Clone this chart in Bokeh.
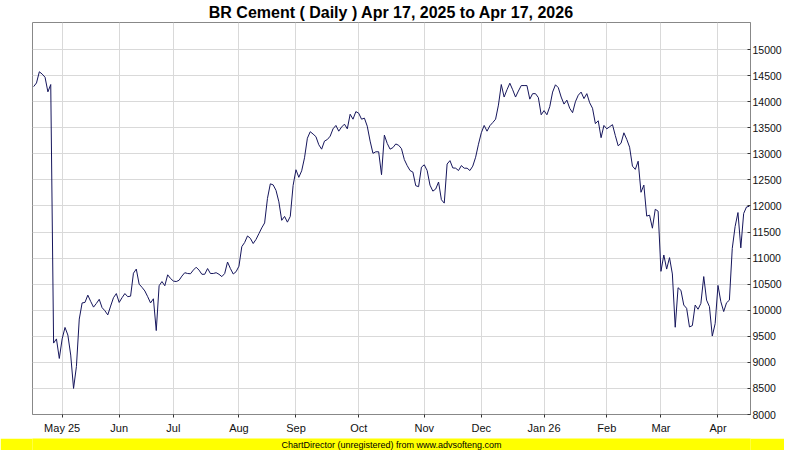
from bokeh.plotting import figure
from bokeh.models import Range1d, FixedTicker
from bokeh.layouts import column
from bokeh.embed import file_html
from bokeh.resources import INLINE
from bokeh.core.properties import value

title_text = "BR Cement ( Daily ) Apr 17, 2025 to Apr 17, 2026"
footer_text = "ChartDirector (unregistered) from www.advsofteng.com"

close = [
    14290, 14360, 14575, 14530, 14470, 14190, 14330, 9370, 9450, 9075,
    9450, 9670, 9525, 9140, 8500, 8920, 9830, 10140, 10150, 10290,
    10170, 10060, 10130, 10210, 10050, 9990, 9910, 10080, 10240, 10320,
    10150, 10240, 10320, 10260, 10270, 10710, 10790, 10500, 10440, 10370,
    10260, 10140, 10220, 9610, 10470, 10550, 10470, 10680, 10610, 10560,
    10550, 10575, 10655, 10720, 10705, 10700, 10770, 10825, 10770, 10690,
    10690, 10800, 10705, 10705, 10720, 10690, 10645, 10705, 10925, 10800,
    10695, 10740, 10845, 11220, 11300, 11425, 11380, 11280, 11360, 11470,
    11580, 11675, 12145, 12425, 12405, 12300, 12080, 11725, 11800, 11690,
    11800, 12395, 12695, 12550, 12675, 12925, 13300, 13425, 13380, 13330,
    13175, 13090, 13245, 13275, 13340, 13480, 13545, 13435, 13515, 13570,
    13480, 13760, 13665, 13810, 13780, 13665, 13685, 13530, 13245, 13010,
    13040, 13040, 12600, 13360, 13200, 13090, 13120, 13190, 13165, 13100,
    12890, 12775, 12680, 12650, 12390, 12370, 12745, 12790, 12680, 12400,
    12285, 12325, 12460, 12120, 12055, 12805, 12870, 12730, 12725, 12680,
    12775, 12725, 12725, 12680, 12765, 12935, 13185, 13405, 13545, 13435,
    13540, 13600, 13665, 13935, 14330, 14090, 14230, 14355, 14230, 14090,
    14205, 14310, 14310, 14310, 14050, 14155, 14155, 14080, 13750, 13830,
    13750, 13905, 14185, 14325, 14270, 14090, 13955, 14030, 13875, 13790,
    14000, 14125, 14185, 14060, 14155, 13980, 13875, 13580, 13635, 13310,
    13545, 13480, 13520, 13560, 13350, 13154, 13204, 13404, 13279, 13128,
    12765, 12702, 12859, 12263, 12401, 11806, 11824, 11574, 11937, 11900,
    10746, 11060, 10790, 11009, 10696, 9674, 10432, 10382, 10100, 10037,
    9680, 9705, 10100, 10019, 10131, 10646, 10194, 10069, 9505, 9743,
    10476, 10163, 9975, 10144, 10194, 11185, 11605, 11874, 11197, 11856,
    11981, 11994,
]
month_idx = [10, 30, 49, 72, 92, 114, 137, 157, 179, 201, 220, 240]
month_lbl = ["May 25", "Jun", "Jul", "Aug", "Sep", "Oct", "Nov", "Dec",
             "Jan 26", "Feb", "Mar", "Apr"]
y_ticks = list(range(8000, 15001, 500))

FONT = "Liberation Sans"
n = len(close)
xs = list(range(n))
y0, y1 = 8000, 15520

p = figure(width=784, height=438, output_backend="svg", toolbar_location=None,
           title=title_text, x_range=Range1d(-0.4, n - 0.6), y_range=Range1d(y0, y1),
           y_axis_location="right",
           min_border_left=32, min_border_right=32,
           min_border_top=21, min_border_bottom=24)
p.title.align = "center"
p.title.text_font = FONT
p.title.text_font_size = "16px"
p.title.text_font_style = "bold"
p.title.text_color = "#000000"
p.title.standoff = 3
p.background_fill_color = "white"
p.border_fill_color = "white"
p.outline_line_color = "#888888"

p.line(xs, close, line_color="#16165c", line_width=1)

# Y axis (right)
ya = p.yaxis[0]
ya.ticker = FixedTicker(ticks=y_ticks)
ya.major_label_text_font_size = "10.5px"
ya.major_label_text_font = FONT
ya.major_label_text_color = "#111111"
ya.major_tick_in = 3
ya.major_tick_out = 0
ya.minor_tick_line_color = None
ya.major_tick_line_color = "#333333"
ya.axis_line_color = "#888888"
ya.major_label_standoff = 2

# X axis
xa = p.xaxis[0]
xa.ticker = FixedTicker(ticks=month_idx)
xa.major_label_overrides = {i: l for i, l in zip(month_idx, month_lbl)}
xa.major_label_text_font_size = "11px"
xa.major_label_text_font = FONT
xa.major_label_text_color = "#111111"
xa.major_tick_in = 0
xa.major_tick_out = 3
xa.minor_tick_line_color = None
xa.major_tick_line_color = "#333333"
xa.axis_line_color = "#888888"
xa.major_label_standoff = 4

p.grid.grid_line_color = "#d9d9d9"
p.grid.grid_line_width = 1

f = figure(width=784, height=12, output_backend="svg", toolbar_location=None,
           title=None, x_range=Range1d(0, 1), y_range=Range1d(0, 1),
           x_axis_type=None, y_axis_type=None, min_border=0)
f.grid.visible = False
f.outline_line_color = None
f.background_fill_color = "#ffff00"
f.border_fill_color = "#ffff00"
f.text(x=[0.5], y=[0.5], text=[footer_text], text_align="center",
       text_baseline="middle", text_font=value(FONT), text_font_size="9px",
       text_color="#000000")

layout = column(p, f, spacing=0)
open("out.html", "w").write(file_html(layout, INLINE))
